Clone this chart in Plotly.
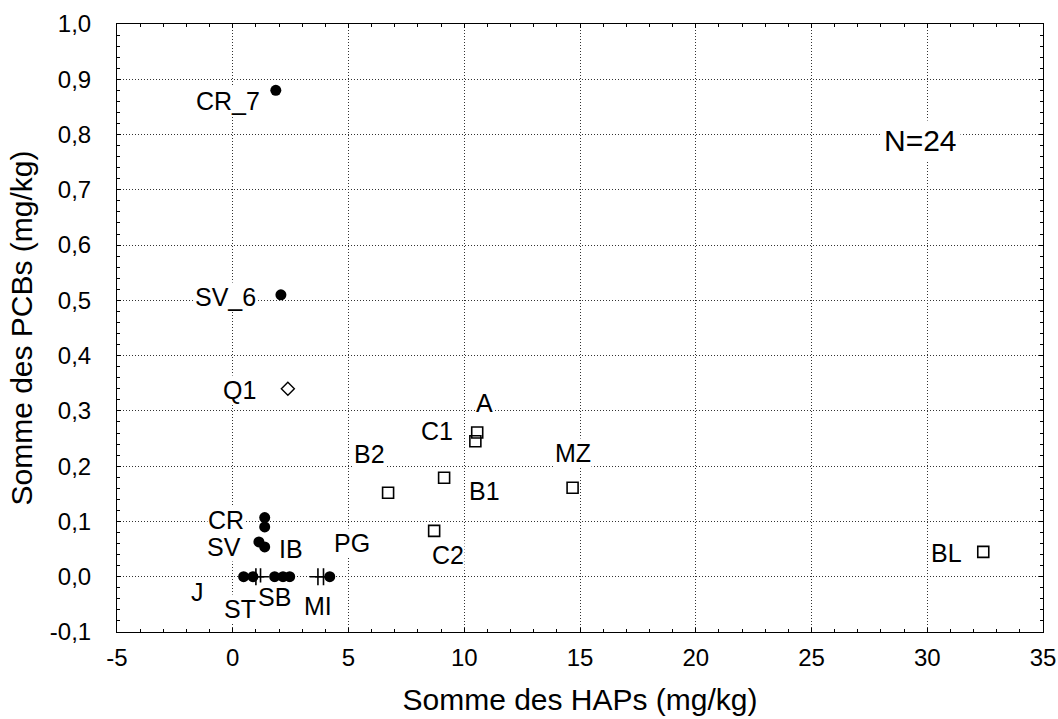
import plotly.graph_objects as go

# Sum of PAHs (x) and sum of PCBs (y), in mg/kg, per sampling site
circle_hap = [1.86, 2.08, 1.38, 1.38, 1.13, 1.38, 0.47, 0.87, 1.81, 2.17, 2.46, 4.19]
circle_pcb = [0.88, 0.51, 0.107, 0.09, 0.063, 0.054, 0.0, 0.0, 0.0, 0.0, 0.0, 0.0]

cross_hap = [1.0, 1.2, 3.68, 3.92]
cross_pcb = [0.0, 0.0, 0.0, 0.0]

diamond_hap = [2.38]
diamond_pcb = [0.34]

square_hap = [10.56, 10.48, 9.13, 6.71, 14.68, 8.70, 32.42]
square_pcb = [0.261, 0.245, 0.179, 0.152, 0.161, 0.083, 0.045]

# Site names, each attached to one of the points above
label_text = ["CR_7", "SV_6", "Q1", "A", "C1", "B1", "B2", "MZ", "C2", "BL",
              "CR", "SV", "IB", "PG", "MI", "SB", "ST", "J"]
label_hap = [1.86, 2.08, 2.38, 10.56, 10.48, 9.13, 6.71, 14.68, 8.70, 32.42,
             1.38, 1.13, 1.38, 4.19, 3.68, 1.81, 0.87, 0.47]
label_pcb = [0.88, 0.51, 0.34, 0.261, 0.245, 0.179, 0.152, 0.161, 0.083, 0.045,
             0.107, 0.063, 0.054, 0.0, 0.0, 0.0, 0.0, 0.0]

x_ticks = [-5, 0, 5, 10, 15, 20, 25, 30, 35]
x_ticktext = ["-5", "0", "5", "10", "15", "20", "25", "30", "35"]
y_ticks = [-0.1, 0.0, 0.1, 0.2, 0.3, 0.4, 0.5, 0.6, 0.7, 0.8, 0.9, 1.0]
y_ticktext = ["-0,1", "0,0", "0,1", "0,2", "0,3", "0,4", "0,5", "0,6", "0,7",
              "0,8", "0,9", "1,0"]

# Pixel offsets of each label from its point (x right, y up)
label_shift = {
    "CR_7": (-48, -11), "SV_6": (-55, -2), "Q1": (-48, -1), "A": (7, 29),
    "C1": (-38, 10), "B1": (40, -13), "B2": (-19, 39), "MZ": (0, 35),
    "C2": (14, -24), "BL": (-37, -1), "CR": (-39, -2), "SV": (-35, -5),
    "IB": (26, -2), "PG": (22, 34), "MI": (0, -29), "SB": (0, -20),
    "ST": (-13, -32), "J": (-46, -15),
}

FONT = "Liberation Sans, Arial, sans-serif"

fig = go.Figure()
fig.add_trace(go.Scatter(
    x=circle_hap, y=circle_pcb, mode="markers",
    marker=dict(symbol="circle", size=11, color="black"),
    showlegend=False, hoverinfo="x+y"))
fig.add_trace(go.Scatter(
    x=square_hap, y=square_pcb, mode="markers",
    marker=dict(symbol="square-open", size=11, color="black", line=dict(width=1.6)),
    showlegend=False, hoverinfo="x+y"))
fig.add_trace(go.Scatter(
    x=diamond_hap, y=diamond_pcb, mode="markers",
    marker=dict(symbol="diamond-open", size=10, color="black", line=dict(width=1.4)),
    showlegend=False, hoverinfo="x+y"))
fig.add_trace(go.Scatter(
    x=cross_hap, y=cross_pcb, mode="markers",
    marker=dict(symbol="cross-thin-open", size=12, color="black",
                line=dict(width=1.6, color="black")),
    showlegend=False, hoverinfo="x+y"))

for name, hx, py in zip(label_text, label_hap, label_pcb):
    dx, dy = label_shift[name]
    fig.add_annotation(
        x=hx, y=py, xref="x", yref="y", text=name, showarrow=False,
        xshift=dx, yshift=dy, bgcolor="white", borderpad=0,
        font=dict(family=FONT, size=25, color="black"))

fig.add_annotation(
    x=0.868, y=0.809, xref="paper", yref="paper", text="N=24", showarrow=False,
    xanchor="center", yanchor="middle",
    bgcolor="white", borderpad=3, font=dict(family=FONT, size=30, color="black"))

axis_common = dict(
    showline=True, linecolor="black", linewidth=1, mirror="allticks",
    showgrid=True, gridcolor="#333333", gridwidth=1, griddash="1px,2px",
    zeroline=False, ticks="inside", ticklen=4, tickcolor="black",
    tickfont=dict(family=FONT, size=24, color="black"), automargin=False,
)

fig.update_xaxes(
    **axis_common, range=[-5, 35], tickmode="array", tickvals=x_ticks,
    ticktext=x_ticktext, ticklabelstandoff=4,
    minor=dict(dtick=1, ticks="inside", ticklen=3, tickcolor="black", showgrid=False),
    title=dict(text="Somme des HAPs (mg/kg)", font=dict(family=FONT, size=30, color="black"),
               standoff=19),
)
fig.update_yaxes(
    **axis_common, range=[-0.1, 1.0], tickmode="array", tickvals=y_ticks,
    ticktext=y_ticktext, ticklabelstandoff=20,
    minor=dict(dtick=0.02, ticks="inside", ticklen=3, tickcolor="black", showgrid=False),
    title=dict(text="Somme des PCBs (mg/kg)", font=dict(family=FONT, size=30, color="black"),
               standoff=8),
)

fig.update_layout(
    width=1058, height=719, autosize=False,
    margin=dict(l=117, r=15, t=24, b=87),
    paper_bgcolor="white", plot_bgcolor="white",
    font=dict(family=FONT, color="black"),
)

fig.write_html("out.html")
